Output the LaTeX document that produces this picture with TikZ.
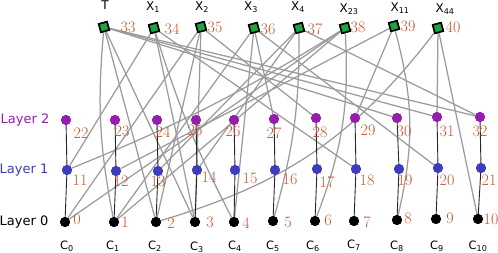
\documentclass[tikz,border=0pt]{standalone}
\usepackage{fontspec}
\setsansfont{DejaVu Sans}
\definecolor{numc}{RGB}{196,86,46}
\definecolor{purp}{RGB}{150,30,175}
\definecolor{bluec}{RGB}{60,60,190}
\definecolor{grn}{RGB}{30,165,60}
\definecolor{edgeg}{RGB}{155,155,155}
\begin{document}
\begin{tikzpicture}[x=1pt,y=-1pt,
  dotnode/.style={circle,inner sep=0pt,minimum size=10pt},
  l2node/.style={dotnode,fill=purp},
  l1node/.style={dotnode,fill=bluec},
  l0node/.style={dotnode,fill=black},
  gsq/.style={rectangle,draw=black,line width=1.6pt,fill=grn,inner sep=0pt,minimum size=8.5pt,rotate=15},
  num/.style={text=numc,font=\fontsize{16}{16}\selectfont,inner sep=0pt},
  toplab/.style={font=\sffamily\fontsize{12}{12}\selectfont,inner sep=0pt},
  clab/.style={font=\sffamily\fontsize{11.5}{11.5}\selectfont,inner sep=0pt},
  laylab/.style={font=\sffamily\fontsize{13}{13}\selectfont,inner sep=0pt},
  gedge/.style={draw=edgeg,line width=1.25pt},
  vedge/.style={draw=black!85,line width=0.9pt}]
\useasboundingbox (0,0) rectangle (498,253);
% layer 0
\foreach \i/\x/\y in {0/65/222,1/114/222,2/156/222,3/195/222,4/234/222,5/273/221,6/315/221,7/354/221,8/397/220,9/436/219,10/478/219}
  \node[l0node] (n\i) at (\x,\y) {};
% layer 1
\foreach \i/\x/\y in {11/67/170,12/116/171,13/158/171,14/197/170,15/235/170,16/275/170,17/317/169,18/356/169,19/399/169,20/438/168,21/481/168}
  \node[l1node] (n\i) at (\x,\y) {};
% layer 2
\foreach \i/\x/\y in {22/66/120,23/115/120,24/157/120,25/196/120,26/234/120,27/274/119,28/316/118,29/355/118,30/397/118,31/437/117,32/480/117}
  \node[l2node] (n\i) at (\x,\y) {};
% top squares
\foreach \i/\x/\y in {33/104/27,34/154/28,35/201/27,36/254/28,37/299/28,38/345/28,39/394/26,40/438/28}
  \node[gsq] (n\i) at (\x,\y) {};
% gray edges
\draw[gedge] (n33) to[bend right=8] (n1);
\draw[gedge] (n33) -- (n2);
\draw[gedge] (n33) -- (n3);
\draw[gedge] (n33) -- (n30);
\draw[gedge] (n33) -- (n31);
\draw[gedge] (n33) -- (n32);
\draw[gedge] (n34) -- (n11);
\draw[gedge] (n34) -- (n18);
\draw[gedge] (n34) to[bend right=5] (n4);
\draw[gedge] (n34) -- (n3);
\draw[gedge] (n35) -- (n0);
\draw[gedge] (n35) -- (n2);
\draw[gedge] (n35) -- (n3);
\draw[gedge] (n35) -- (n28);
\draw[gedge] (n36) -- (n1);
\draw[gedge] (n36) -- (n4);
\draw[gedge] (n36) -- (n20);
\draw[gedge] (n36) -- (n27);
\draw[gedge] (n37) to[bend left=8] (n5);
\draw[gedge] (n37) -- (n32);
\draw[gedge] (n37) -- (n13);
\draw[gedge] (n37) -- (n14);
\draw[gedge] (n38) to[bend left=5] (n11);
\draw[gedge] (n38) -- (n0);
\draw[gedge] (n38) -- (n1);
\draw[gedge] (n38) to[bend left=12] (n6);
\draw[gedge] (n39) -- (n12);
\draw[gedge] (n39) -- (n29);
\draw[gedge] (n39) to[bend left=14] (n8);
\draw[gedge] (n40) to[bend left=18] (n2);
\draw[gedge] (n40) -- (n31);
\draw[gedge] (n40) -- (n10);
% vertical edges
\foreach \a/\b/\c in {22/11/0,23/12/1,24/13/2,25/14/3,26/15/4,27/16/5,28/17/6,29/18/7,30/19/8,31/20/9,32/21/10}{
  \draw[vedge] (n\a) -- (n\b);
  \draw[vedge] (n\b) -- (n\c);
}
% redraw nodes on top
\foreach \i/\x/\y in {0/65/222,1/114/222,2/156/222,3/195/222,4/234/222,5/273/221,6/315/221,7/354/221,8/397/220,9/436/219,10/478/219}
  \node[l0node] at (\x,\y) {};
\foreach \i/\x/\y in {11/67/170,12/116/171,13/158/171,14/197/170,15/235/170,16/275/170,17/317/169,18/356/169,19/399/169,20/438/168,21/481/168}
  \node[l1node] at (\x,\y) {};
\foreach \i/\x/\y in {22/66/120,23/115/120,24/157/120,25/196/120,26/234/120,27/274/119,28/316/118,29/355/118,30/397/118,31/437/117,32/480/117}
  \node[l2node] at (\x,\y) {};
\foreach \i/\x/\y in {33/104/27,34/154/28,35/201/27,36/254/28,37/299/28,38/345/28,39/394/26,40/438/28}
  \node[gsq] at (\x,\y) {};
% number labels
\foreach \i/\x/\y in {0/77/219,1/125/222,2/171/223,3/210/222,4/246/223,5/288/222,6/328/220,7/367/222,8/408/218,9/450/218,10/491/219,
  11/80/180,12/121/181,13/158/181,14/209/177,15/250/178,16/290/179,17/327/182,18/367/180,19/405/180,20/447/180,21/489/180,
  22/81/133,23/122/131,24/163/132,25/195/130,26/233/131,27/274/133,28/320/132,29/368/130,30/404/131,31/447/131,32/480/131,
  33/128/27,34/172/29,35/215/27,36/268/29,37/315/29,38/358/27,39/408/26,40/453/27}
  \node[num] (l\i) at (\x,\y) {\i};
% top labels
\node[toplab] (tT) at (105,5) {T};
\node[toplab] (tX1) at (153,7) {X\textsubscript{1}};
\node[toplab] (tX2) at (202,7) {X\textsubscript{2}};
\node[toplab] (tX3) at (251,7) {X\textsubscript{3}};
\node[toplab] (tX4) at (298,7) {X\textsubscript{4}};
\node[toplab] (tX23) at (349,9) {X\textsubscript{23}};
\node[toplab] (tX11) at (400,8) {X\textsubscript{11}};
\node[toplab] (tX44) at (445,9) {X\textsubscript{44}};
% C labels
\foreach \i/\x/\y in {0/67/246,1/113/246,2/155/246,3/197/247,4/235/246,5/273/246,6/313/246,7/354/245,8/397/246,9/437/246,10/478/246}
  \node[clab] (c\i) at (\x,\y) {C\textsubscript{\i}};
% layer labels
\node[laylab,text=purp] (lay2) at (25,120) {Layer 2};
\node[laylab,text=bluec] (lay1) at (24,170) {Layer 1};
\node[laylab,text=black] (lay0) at (24,222) {Layer 0};
\end{tikzpicture}
\end{document}
